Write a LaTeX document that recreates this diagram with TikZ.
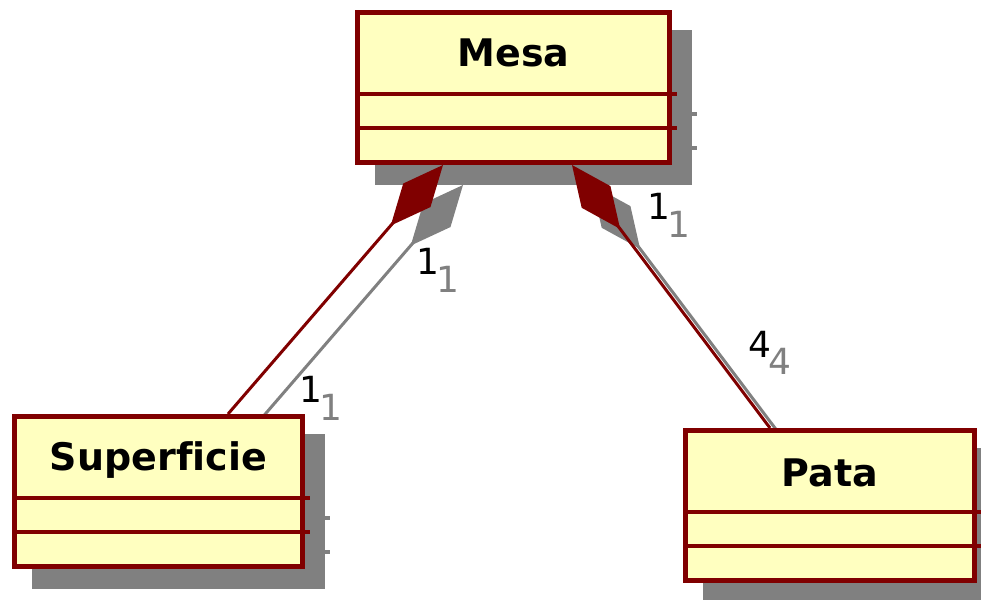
\documentclass[tikz,border=0pt]{standalone}
\usepackage{fontspec}
\usepackage{tikz}
\usepackage{xcolor}
\usetikzlibrary{arrows.meta, backgrounds}
\newfontfamily\umlfont[Ligatures=NoCommon]{DejaVu Sans}
\definecolor{umlred}{RGB}{128,0,0}
\definecolor{umlfill}{RGB}{255,255,192}
\definecolor{umlshadow}{RGB}{128,128,128}
\tikzstyle{classbox} = [rectangle, draw=umlred, line width=5pt, fill=umlfill, minimum height=150pt, inner sep=0]
\tikzstyle{classname} = [anchor=base, inner sep=0, font=\umlfont\bfseries\fontsize{38}{44}\selectfont]
\tikzstyle{divider} = [draw=umlred, line width=4.5pt]
\tikzstyle{dividershadow} = [draw=umlshadow, line width=4.5pt]
\tikzstyle{mult} = [inner sep=0, font=\umlfont\fontsize{36}{42}\selectfont]
\tikzstyle{multshadow} = [mult, text=umlshadow]
\tikzstyle{line} = [draw=umlred, line width=3pt, arrows={Diamond[length=80pt,width=36pt]-}]
\tikzstyle{lineshadow} = [line, draw=umlshadow]

\begin{document}
\begin{tikzpicture}[x=1pt, y=1pt]
\useasboundingbox (0,0) rectangle (981,-599);

% classes
\node [classbox, minimum width=312pt] (Mesa) at (513.5,-87.5) {};
\node [classbox, minimum width=288pt] (Sup) at (158.5,-491.5) {};
\node [classbox, minimum width=289pt] (Pata) at (830,-505.5) {};

\node [classname] (MesaName) at ([yshift=-57pt]Mesa.north) {Mesa};
\node [classname] (SupName) at ([yshift=-56pt]Sup.north) {Superficie};
\node [classname] (PataName) at ([yshift=-58pt]Pata.north) {Pata};

\foreach \c in {Mesa, Sup, Pata} {
  \draw [divider] ([yshift=-84pt]\c.north west) -- ([xshift=5pt, yshift=-84pt]\c.north east);
  \draw [divider] ([yshift=-118pt]\c.north west) -- ([xshift=5pt, yshift=-118pt]\c.north east);
}

% shadows and compositions go under the classes
\begin{scope}[on background layer]
  \foreach \c in {Mesa, Sup, Pata} {
    \fill [umlshadow] ([xshift=20pt, yshift=-20pt]\c.south west) rectangle ([xshift=20pt, yshift=-20pt]\c.north east);
    \draw [dividershadow] ([xshift=20pt, yshift=-104pt]\c.north east) -- ([xshift=25pt, yshift=-104pt]\c.north east);
    \draw [dividershadow] ([xshift=20pt, yshift=-138pt]\c.north east) -- ([xshift=25pt, yshift=-138pt]\c.north east);
  }

  \path [lineshadow] ([xshift=-50.5pt, yshift=-20pt]Mesa.south) -- ([xshift=89.5pt, yshift=-20pt]Sup.north);
  \path [lineshadow] ([xshift=78.5pt, yshift=-20pt]Mesa.south) -- ([xshift=-40pt, yshift=-20pt]Pata.north);

  \path [line] ([xshift=-70.5pt]Mesa.south) -- ([xshift=69.5pt]Sup.north);
  \path [line] ([xshift=58.5pt]Mesa.south) -- ([xshift=-60pt]Pata.north);
\end{scope}

% multiplicities
\node [multshadow] (m1s) at (448,-279) {1};
\node [mult] (m1) at (428,-261) {1};
\node [multshadow] (m2s) at (331,-407) {1};
\node [mult] (m2) at (311,-389) {1};
\node [multshadow] (m3s) at (679,-224) {1};
\node [mult] (m3) at (659,-206) {1};
\node [multshadow] (m4s) at (780,-361) {4};
\node [mult] (m4) at (760,-344) {4};

\end{tikzpicture}
\end{document}
